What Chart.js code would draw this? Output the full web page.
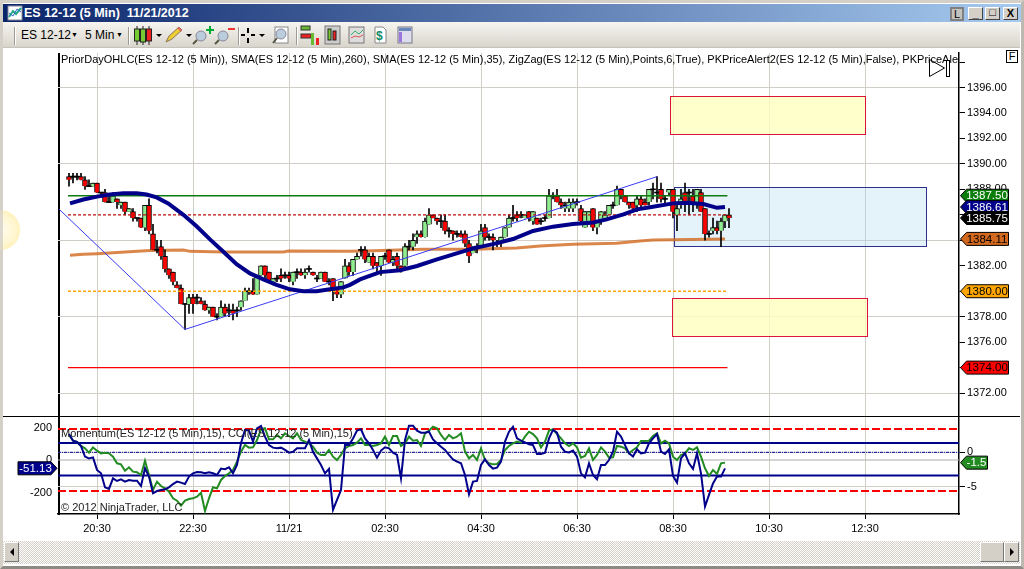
<!DOCTYPE html>
<html>
<head>
<meta charset="utf-8">
<title>ES 12-12 (5 Min) 11/21/2012</title>
<script src="https://cdn.jsdelivr.net/npm/chart.js@4"></script>
<style>
html,body{margin:0;padding:0;background:#fff;overflow:hidden}
body{width:1024px;height:569px;position:relative;font-family:"Liberation Sans",Arial,sans-serif}
.abs{position:absolute}
canvas{position:absolute;left:0}
#window{left:0;top:0;width:1018px;height:563px;border:3px solid #d4d0c8;border-right-color:#bdb9b0;border-bottom-color:#8d8a84;background:#fff}
#titlebar{left:3px;top:4px;width:1018px;height:18px;background:linear-gradient(90deg,#0a246a,#a6caf0);color:#fff;font:bold 12.5px "Liberation Sans",Arial,sans-serif;line-height:18px}
#toolbar{left:3px;top:22px;width:1017px;height:25px;background:linear-gradient(180deg,#f6f5f0,#d8d5cc);border-bottom:1px solid #c6c3ba;font-size:12px;color:#000}
.sep{position:absolute;top:5px;width:1px;height:18px;background:#9c9a92;border-right:1px solid #fff}
#scroll{left:3px;top:541px;width:1017px;height:23px;background:repeating-conic-gradient(#d4d0c8 0 25%,#fff 0 50%) 0 0/2px 2px}
.btn{position:absolute;top:1px;height:20px;background:#d4d0c8;border:1px solid;border-color:#fff #777 #777 #fff;box-sizing:border-box}
.winbtn{position:absolute;top:3px;width:15px;height:13px;background:#d4d0c8;border:1px solid;border-color:#fff #444 #444 #fff;box-sizing:border-box;font:bold 11px "Liberation Sans";text-align:center;line-height:11px;color:#000}
#sun{left:-20px;top:210px;width:40px;height:40px;border-radius:50%;background:radial-gradient(circle,#fffdf0 0,#fff6cf 55%,#ffe99a 100%)}
#leftaxis{left:58px;top:53px;width:2px;height:462px;background:#000}
#divider{left:3px;top:416px;width:1017px;height:1px;background:#000}
#fbtn{left:1006px;top:50px;width:10px;height:11px;border:1px solid #000;font-size:11px;line-height:11px;text-align:center;background:#fff}
</style>
</head>
<body>
<div id="window" class="abs"></div>
<div id="sun" class="abs"></div>
<div class="abs" style="left:0;top:190px;width:3px;height:80px;background:rgba(212,208,200,.8)"></div>
<div id="titlebar" class="abs">
  <svg class="abs" style="left:4px;top:1px" width="16" height="16"><rect x="1" y="1" width="14" height="14" fill="#fff" stroke="#889"/><polyline points="2,12 6,6 9,9 14,3" fill="none" stroke="#2a8" stroke-width="2"/><polyline points="2,8 6,11 10,4 14,7" fill="none" stroke="#36c"/></svg>
  <span class="abs" style="left:21px;top:0;white-space:pre">ES 12-12 (5 Min)  11/21/2012</span>
  <div class="winbtn" style="left:947px;width:14px;border:2px solid #808080;background:#c4c2bc;height:14px;line-height:10px;font-weight:normal">L</div>
  <div class="winbtn" style="left:965px">_</div>
  <div class="winbtn" style="left:982px;line-height:9px">&#9633;</div>
  <div class="winbtn" style="left:1000px">X</div>
</div>
<div id="toolbar" class="abs">
  <div class="sep" style="left:11px"></div>
  <span class="abs" style="left:18px;top:6px">ES 12-12</span><span class="abs" style="left:68px;top:9px;font-size:7px">&#9660;</span>
  <span class="abs" style="left:82px;top:6px">5 Min</span><span class="abs" style="left:113px;top:9px;font-size:7px">&#9660;</span>
  <div class="sep" style="left:125px"></div>
  <svg class="abs" style="left:130px;top:1px" width="285" height="24">
    <g stroke="#222"><line x1="4" y1="3" x2="4" y2="22"/><rect x="1.5" y="6" width="5" height="12" fill="#7c3"/><line x1="10" y1="3" x2="10" y2="22"/><rect x="7.5" y="6" width="5" height="13" fill="#7c3"/><line x1="16" y1="3" x2="16" y2="22"/><rect x="13.5" y="6" width="5" height="12" fill="#e22"/></g>
    <path d="M23 11h6l-3 3z" fill="#000"/>
    <path d="M33 19l3-6 10-9 3 3-10 9z" fill="#ec3" stroke="#875"/><path d="M44 5l2-1 3 3-1 2z" fill="#d66"/>
    <path d="M53 11h6l-3 3z" fill="#000"/>
    <circle cx="68" cy="13" r="5" fill="#bcd" stroke="#889"/><line x1="64" y1="17" x2="60" y2="21" stroke="#554" stroke-width="2"/><path d="M76 3h2v3h3v2h-3v3h-2v-3h-3v-2h3z" fill="#0a3"/>
    <circle cx="90" cy="13" r="5" fill="#bcd" stroke="#889"/><line x1="86" y1="17" x2="82" y2="21" stroke="#554" stroke-width="2"/><rect x="95" y="5" width="7" height="2" fill="#e33"/>
    <g stroke="#000" stroke-width="2"><line x1="115" y1="5" x2="115" y2="10"/><line x1="115" y1="15" x2="115" y2="20"/><line x1="108" y1="12" x2="112" y2="12"/><line x1="118" y1="12" x2="122" y2="12"/></g>
    <path d="M126 11h6l-3 3z" fill="#000"/>
    <rect x="142" y="4" width="13" height="16" fill="#fff" stroke="#888"/><circle cx="148" cy="11" r="5" fill="#bcd" stroke="#889"/><line x1="144" y1="15" x2="140" y2="20" stroke="#554" stroke-width="2"/>
    <rect x="168" y="3" width="9" height="4" fill="#6b3" stroke="#333"/><rect x="168" y="11" width="10" height="4" fill="#e22" stroke="#333"/><rect x="178" y="10" width="3" height="12" fill="#6b3"/><rect x="183" y="15" width="3" height="7" fill="#e22"/>
    <rect x="192" y="3" width="15" height="18" fill="#ccc" stroke="#777"/><g stroke="#222"><rect x="195" y="6" width="3" height="11" fill="#7c3"/><rect x="200" y="8" width="3" height="9" fill="#e22"/></g>
    <rect x="216" y="4" width="15" height="16" fill="#ddd" stroke="#777"/><polyline points="218,12 222,8 226,11 230,7" fill="none" stroke="#3a6"/><polyline points="218,15 222,13 226,14 230,12" fill="none" stroke="#d55"/>
    <path d="M242 4h8l3 3v13h-11z" fill="#fff" stroke="#888"/><text x="243" y="17" font-size="12" font-weight="bold" fill="#186">$</text>
    <rect x="265" y="4" width="14" height="16" fill="#dde" stroke="#778"/><rect x="266" y="5" width="12" height="3" fill="#68b"/><rect x="266" y="9" width="3" height="10" fill="#97d"/>
  </svg>
  <div class="sep" style="left:235px"></div><div class="sep" style="left:293px"></div>
</div>
<div id="leftaxis" class="abs"></div>
<canvas id="priceChart" width="1024" height="417" style="top:0"></canvas>
<canvas id="lowerChart" width="1024" height="124" style="top:416px"></canvas>
<div id="divider" class="abs"></div>
<div id="fbtn" class="abs">F</div>
<svg class="abs" style="left:927px;top:58px" width="24" height="22"><path d="M2.5 1.5v17l15-8.500z" fill="none" stroke="#000"/><rect x="19.500" y="2.500" width="3" height="16" fill="#fff" stroke="#000"/></svg>
<div id="scroll" class="abs">
  <div class="btn" style="left:1px;width:15px"><svg width="13" height="18"><path d="M9 5v8l-4-4z" fill="#000"/></svg></div>
  <div class="btn" style="left:977px;width:24px"></div>
  <div class="btn" style="left:1001px;width:15px"><svg width="13" height="18"><path d="M5 5v8l4-4z" fill="#000"/></svg></div>
</div>

<script>
// bars are numbered from the 20:30 bar, one bar = 5 min
const firstBar = -7;
const xMin = -9.75, xMax = 215.5;
const timeTicks = [0, 24, 48, 72, 96, 120, 144, 168, 192];
const timeLabels = ['20:30', '22:30', '11/21', '02:30', '04:30', '06:30', '08:30', '10:30', '12:30'];

const priceTicks = [1398, 1396, 1394, 1392, 1390, 1388, 1386, 1384, 1382, 1380, 1378, 1376, 1374, 1372];
const cciTicks = [200, 0, -200];
const momentumTicks = [0, -5];

const opens = [
1389,1389,1389,1389,1388.75,1388.25,1388.25,1388.5,1387.75,1387.75,
1387,1387,1387.25,1386.75,1387,1386.25,1386.25,1385.75,1385.75,1385,
1386.75,1384.5,1383.25,1383.5,1382.75,1381.75,1381.5,1380.5,1380.25,1379,
1379,1379.5,1379.5,1379.25,1379,1378.5,1378.75,1378,1378,1378.75,
1378.5,1378.5,1378.5,1378.75,1379.25,1380,1380,1379.75,1381.25,1382,
1381.5,1380.75,1381,1381.25,1381.25,1381.25,1380.75,1381.5,1381.5,1381.25,
1381.75,1381.5,1381,1381,1381.5,1380.75,1381,1380.25,1379.75,1381,
1382,1381.5,1382.5,1383.25,1383.25,1382.25,1382.75,1382.25,1382,1382.75,
1383.25,1382.25,1382.75,1382,1382,1383.5,1383.5,1384.25,1384.5,1384.25,
1385.25,1386,1385.75,1385.5,1385.5,1384.75,1384.75,1384.5,1384.5,1384.5,
1383.75,1383,1383.5,1383.5,1385,1384.25,1384.25,1383.75,1383.75,1384.25,
1385,1385.75,1386,1386,1385.75,1386.25,1385.5,1385.75,1385.5,1385.75,
1385.75,1387.5,1387.5,1387,1386.5,1386.5,1386.5,1387,1386.5,1385,
1385.5,1386.5,1385,1385.5,1385.75,1386,1386.75,1386.75,1388,1387.5,
1387,1387,1386.75,1387.25,1387,1387,1388,1387.75,1388,1387.25,
1387.75,1388,1386,1386.75,1387.75,1387.75,1387.5,1387,1387.75,1386.5,
1384.5,1384.75,1385,1384.75,1385.5,1386];
const highs = [
1389.25,1389.25,1389.25,1389.25,1389,1388.75,1388.5,1388.5,1387.75,1388,
1387.5,1387.75,1387.25,1387,1387,1386.5,1386.5,1385.75,1385.75,1386.75,
1387.25,1385.25,1384,1384,1383.25,1381.75,1381.5,1380.75,1380.5,1379,
1379.75,1379.75,1379.75,1379.5,1379.25,1378.75,1378.75,1378.25,1379.25,1379,
1379,1379,1378.75,1379.25,1380.25,1380.25,1381,1381.25,1382,1382,
1381.5,1381,1381.25,1381.75,1381.5,1381.5,1381.5,1381.75,1381.75,1381.75,
1382,1381.5,1381.25,1381.5,1381.5,1381,1381,1380.25,1380.75,1382.5,
1382.25,1382.5,1383,1383.5,1383.5,1383,1383,1382.25,1382.75,1383,
1383.25,1382.75,1383,1382,1383.75,1384,1384.5,1384.75,1384.75,1385.75,
1386.5,1386,1385.75,1386,1386,1385,1384.75,1384.75,1384.75,1384.75,
1384,1383.5,1383.75,1385.25,1385.25,1384.5,1384.5,1384,1384.25,1385,
1386,1386.75,1386.25,1386.25,1386,1386.25,1386.25,1385.75,1385.75,1386,
1388,1387.75,1388,1387.25,1387,1387.25,1387.25,1387.25,1386.75,1386.25,
1386.25,1386.5,1385.5,1386.25,1386.25,1386.75,1387,1388.25,1388,1387.5,
1387,1387,1387.5,1387.5,1387.25,1388,1388.5,1389,1388.5,1387.5,
1388,1388,1387,1388,1388.5,1388,1388,1388,1388,1386.5,
1384.75,1385.75,1385.5,1385.75,1386,1386.5];
const lows = [
1388.25,1388.5,1388.75,1388.75,1388,1388.25,1388.25,1387.75,1387.5,1387,
1387,1387,1386.5,1386.5,1386,1386.25,1385.5,1385.5,1385,1384.75,
1384.5,1383.25,1383,1382.5,1381.5,1381,1380.5,1380.25,1379,1377,
1378.25,1378.25,1379,1379,1378.5,1378.25,1378,1377.75,1378,1378,
1378,1377.75,1378,1378.5,1379.25,1379.75,1379.75,1379.75,1381.25,1381,
1380.75,1380.5,1380.75,1380.75,1381,1380.75,1380.5,1381,1381.25,1381,
1381.5,1381.25,1380.75,1381,1380.75,1380.5,1379.25,1379.5,1379.5,1381,
1381.25,1381.25,1382.5,1382.75,1382.25,1382.25,1381.75,1381.5,1381.25,1382.5,
1382.25,1382,1381.75,1381.5,1381.75,1383.25,1383.25,1383.75,1384.25,1384.25,
1385.25,1385.75,1385.25,1385,1384.5,1384.25,1384,1384.25,1384.25,1383.5,
1382.25,1383,1383,1383.5,1384,1384,1383.25,1383.5,1383.5,1384.25,
1385,1385.5,1385.5,1385.75,1385.75,1385.5,1385.25,1385.25,1385.25,1385.5,
1385.75,1387.25,1387,1386.5,1386.25,1386.25,1386.25,1386.75,1385.25,1385,
1385.25,1384.75,1384.5,1385.25,1385.75,1386,1386.5,1386.75,1387.25,1387,
1386.5,1386.25,1386.25,1386.5,1386.75,1386.75,1387.25,1387,1387,1386.75,
1387.5,1385.75,1384.75,1386.5,1386.25,1386,1386.25,1386.5,1386.25,1384,
1384.25,1384.5,1384.5,1383.5,1385,1385];
const closes = [
1388.75,1389,1389,1388.75,1388.25,1388.25,1388.5,1387.75,1387.75,1387,
1387,1387.5,1387,1387,1386.25,1386.5,1385.75,1385.75,1385,1386.75,
1384.75,1383.25,1383.25,1382.75,1381.75,1381.25,1380.75,1380.25,1379,1379,
1379.5,1379,1379.5,1379,1378.5,1378.75,1378,1378,1378.75,1378.25,
1378.5,1378.25,1378.5,1379.25,1380,1380,1379.75,1381.25,1382,1381.25,
1380.75,1381,1381,1381,1381.25,1381,1381.5,1381.5,1381.25,1381.5,
1381.75,1381.25,1381,1381.5,1380.75,1380.75,1380.25,1379.75,1380.75,1382,
1381.5,1382.5,1382.75,1383.25,1382.5,1382.75,1382,1382,1382.75,1382.75,
1382.25,1382.5,1382,1381.75,1383.5,1383.5,1384,1384.5,1384.25,1385.5,
1386,1385.75,1385.5,1385.5,1384.75,1384.75,1384.5,1384.5,1384.25,1383.75,
1382.75,1383.25,1383.5,1384.75,1384.25,1384.25,1384,1383.75,1384.25,1385,
1385.75,1385.75,1385.75,1386,1386,1385.75,1386.25,1385.25,1385.5,1385.75,
1387.5,1387.5,1387,1386.75,1386.75,1387,1387,1387,1385.5,1386.25,
1386.25,1385,1385.5,1386.25,1386,1386.75,1386.75,1388,1387.5,1387,
1386.75,1386.5,1387.25,1386.75,1386.75,1388,1388,1387.75,1387.25,1387.25,
1388,1386.25,1386.5,1387.25,1387,1387.75,1387,1388,1386.25,1384.5,
1384.5,1385,1384.75,1385.5,1386,1385.75];

// SMA(35), read at a handful of bars
const sma35Bars = [-6.75,-3.4,0,3.25,6.6,9.9,12.4,14.9,17.8,21.6,24.9,28.25,31.6,34.9,38.25,41.6,44.9,48.25,51.6,54.9,58.25,61.6,63.25,65.75,70.75,75.75,80,85,89.1,94,99,104,109,114,119,124,127.4,131.6,135,139,144,147.4,151.6,155,157];
const sma35 = [1386.9,1387.2,1387.43,1387.6,1387.69,1387.69,1387.6,1387.37,1386.9,1386,1385.1,1384.07,1383.1,1382.13,1381.4,1380.93,1380.5,1380.15,1380,1380,1380.15,1380.3,1380.5,1380.93,1381.5,1381.65,1381.98,1382.5,1382.9,1383.37,1383.7,1384.1,1384.73,1385.07,1385.28,1385.4,1385.64,1386.03,1386.43,1386.64,1386.9,1386.95,1386.85,1386.55,1386.61];

// SMA(260)
const sma260Bars = [-6.75,-3.4,0,5,13.25,21.6,23.25,31.6,46.6,47.8,63.25,69,81.6,94,104.9,110.75,119,129.9,135.75,139,148.6,157];
const sma260 = [1382.82,1382.9,1382.95,1383.05,1383.2,1383.24,1383.13,1383.08,1383.08,1383.15,1383.13,1383.18,1383.29,1383.29,1383.39,1383.55,1383.68,1383.76,1383.94,1384.02,1384.07,1384.11];

const zigzagBars = [-9.5, 22, 140];
const zigzag = [1386.45, 1377, 1389];

// prior day levels
const levelStart = -7.25, levelEnd = 157.6;
const priorHigh = 1387.5, priorClose = 1386, priorOpen = 1380, priorLow = 1374;

// PK zones: bar from, bar to, price top, price bottom
const zoneBars = [[143.25, 192], [143.75, 192.5], [144.25, 207.25]];
const zonePrices = [[1395.33, 1392.35], [1379.46, 1376.48], [1388.16, 1383.53]];

const cci = [
160,119,111,86,21,10,16,-61,-82,-168,-178,-113,-129,-119,-133,-123,-127,-127,-160,-51,
-102,-205,-191,-185,-180,-168,-148,-133,-139,-148,-102,-82,-74,-76,-82,-76,-82,-92,-53,-57,
-45,-82,-31,103,185,181,113,195,209,144,92,76,72,76,62,45,51,72,72,72,
123,51,10,-31,-82,-55,-307,-246,-185,92,92,133,181,189,133,103,62,14,58,78,
72,45,31,-113,123,211,211,181,168,168,174,127,103,82,62,31,4,-10,-20,-92,
-211,-133,-129,-31,4,-31,-53,-47,-10,113,174,205,133,119,109,97,92,37,37,45,
133,185,168,82,51,47,58,21,-82,-107,-20,-92,-119,-31,-31,0,51,174,144,92,
41,21,66,41,45,103,133,160,51,37,66,-98,-139,10,41,-20,-55,41,-82,-287,
-215,-144,-102,-102,-51.13];
const momentum = [
2.52,1.69,1.5,0.92,0.58,-0.05,0.72,0.24,-0.15,-0.05,-0.15,-0.63,-1.6,-1.75,-2.67,-2.18,-2.81,-2.91,-3.3,-1.21,
-3.3,-5.48,-4.27,-4.9,-5.24,-5.72,-6.69,-7.03,-7.76,-7.03,-6.79,-6.69,-6.45,-5.87,-8.53,-6.69,-5.09,-5.24,-4.02,-3.44,
-3.06,-2.57,-1.36,0.09,1.06,0.67,0.72,1.79,3.34,3.49,1.89,1.89,2.52,2.03,2.76,2.37,2.03,2.76,1.79,1.55,
1.3,0.82,-0.05,-0.39,-0.39,0.34,-0.63,-1.12,-0.39,0.58,0.92,1.06,1.4,2.03,1.06,1.06,0.92,1.06,1.3,2.27,
1.06,2.37,2.37,0.92,1.3,2.27,1.69,1.79,0.92,2.76,3.15,3.73,3.49,2.52,1.79,2.52,2.03,2.27,2.76,0.09,
-0.88,-0.39,-1.12,0.58,-1.12,-1.6,-1.75,-1.7,-1.12,0.34,0.92,1.3,1.55,1.4,2.27,3,2.66,2.03,0.72,1.55,
3.15,3.34,2.66,2.03,1.3,0.92,1.3,0.72,-0.78,-0.54,0.58,-1.12,-0.39,0.72,0.09,-0.78,-0.73,0.92,0.82,0.58,
-0.15,0.34,0.72,1.64,1.64,1.69,2.37,2.76,1.3,1.69,1.3,-0.63,-1.12,-0.39,-0.15,0.58,0.34,0.72,-0.63,-2.33,
-3.44,-2.57,-3.15,-1.6,-1.5];

const cciLevels = {outer: [190.8, -190.7], inner: [104, -96], zero: 0};
const momentumZero = 0;

const priceFlags = [1384.11, 1380, 1374, 1387.5, 1386.61, 1385.75];
const priceFlagColors = ['#d2691e', '#ffa500', '#ff0000', '#0b7d0b', '#00008b', '#000000'];
const priceFlagText = ['#000', '#000', '#000', '#fff', '#fff', '#fff'];

const legendPrice = 'PriorDayOHLC(ES 12-12 (5 Min)), SMA(ES 12-12 (5 Min),260), SMA(ES 12-12 (5 Min),35), ZigZag(ES 12-12 (5 Min),Points,6,True), PKPriceAlert2(ES 12-12 (5 Min),False), PKPriceAlert2(ES 12-12 (5 Min),False)';
const legendLower = 'Momentum(ES 12-12 (5 Min),15), CCI(ES 12-12 (5 Min),15)';
const copyrightText = '\u00a9 2012 NinjaTrader, LLC';

const textFont = '11px "Liberation Sans", Arial, sans-serif';
const gridColor = '#d0cec6';

function pairs(xs, ys) { return xs.map((x, i) => ({x: x, y: ys[i]})); }
function byBar(ys) { return ys.map((y, i) => ({x: i + firstBar, y: y})); }
function flat(x0, x1, y) { return [{x: x0, y: y}, {x: x1, y: y}]; }

function lineSet(data, color, width, order, dash, yAxisID) {
    return {type: 'line', data: data, borderColor: color, borderWidth: width, order: order,
        borderDash: dash || [], pointRadius: 0, tension: 0, yAxisID: yAxisID || 'y', parsing: true};
}

function flag(ctx, x, y, w, color, tip, text, textColor) {
    // tip: -1 points left, 1 points right
    const h = 6.5, tipW = 6;
    ctx.beginPath();
    if (tip < 0) {
        ctx.moveTo(x, y); ctx.lineTo(x + tipW, y - h); ctx.lineTo(x + w, y - h);
        ctx.lineTo(x + w, y + h); ctx.lineTo(x + tipW, y + h);
    } else {
        ctx.moveTo(x + w, y); ctx.lineTo(x + w - tipW, y - h); ctx.lineTo(x, y - h);
        ctx.lineTo(x, y + h); ctx.lineTo(x + w - tipW, y + h);
    }
    ctx.closePath();
    ctx.fillStyle = color; ctx.fill();
    ctx.strokeStyle = '#000'; ctx.lineWidth = 1; ctx.stroke();
    ctx.fillStyle = textColor;
    ctx.font = '11.5px "Liberation Sans", Arial, sans-serif';
    ctx.textAlign = 'center'; ctx.textBaseline = 'middle';
    ctx.fillText(text, x + w / 2 + (tip < 0 ? 2.5 : -2), y + 0.5);
}

const zonesPlugin = {
    id: 'zones',
    beforeDatasetsDraw(chart) {
        const ctx = chart.ctx, xs = chart.scales.x, ys = chart.scales.y;
        const fills = ['rgba(255,255,190,.8)', 'rgba(255,255,190,.8)', 'rgba(173,216,240,.33)'];
        const lines = ['#dc143c', '#dc143c', '#2e2e8e'];
        zoneBars.forEach((b, i) => {
            // snap to whole pixels so the 1px frame stays crisp
            const x0 = Math.round(xs.getPixelForValue(b[0])) + 0.5, x1 = Math.round(xs.getPixelForValue(b[1])) + 0.5;
            const y0 = Math.round(ys.getPixelForValue(zonePrices[i][0])) + 0.5, y1 = Math.round(ys.getPixelForValue(zonePrices[i][1])) + 0.5;
            ctx.fillStyle = fills[i]; ctx.fillRect(x0, y0, x1 - x0, y1 - y0);
            ctx.strokeStyle = lines[i]; ctx.lineWidth = 1; ctx.strokeRect(x0, y0, x1 - x0, y1 - y0);
        });
    }
};

const priceTextPlugin = {
    id: 'priceText',
    afterDraw(chart) {
        const ctx = chart.ctx, a = chart.chartArea, ys = chart.scales.y;
        ctx.save();
        ctx.beginPath(); ctx.rect(a.left, a.top, a.right - a.left, a.bottom - a.top); ctx.clip();
        ctx.fillStyle = '#000'; ctx.font = textFont; ctx.textAlign = 'left'; ctx.textBaseline = 'middle';
        ctx.fillText(legendPrice, a.left + 3, a.top + 7);
        ctx.restore();
        ctx.save();
        priceFlags.forEach((v, i) => {
            flag(ctx, a.right + 1.5, ys.getPixelForValue(v), 48, priceFlagColors[i], -1, v.toFixed(2), priceFlagText[i]);
        });
        ctx.restore();
    }
};

const lowerTextPlugin = {
    id: 'lowerText',
    afterDraw(chart) {
        const ctx = chart.ctx, a = chart.chartArea;
        ctx.save();
        ctx.fillStyle = '#222'; ctx.font = textFont; ctx.textAlign = 'left'; ctx.textBaseline = 'middle';
        ctx.fillText(legendLower, a.left + 3, a.top + 18);
        ctx.fillText(copyrightText, a.left + 3, a.bottom - 6);
        flag(ctx, a.left - 40, chart.scales.yCci.getPixelForValue(cci[cci.length - 1]), 39, '#00008b', 1, cci[cci.length - 1].toFixed(2), '#fff');
        flag(ctx, a.right + 1.5, chart.scales.yMom.getPixelForValue(momentum[momentum.length - 1]), 27, '#228b22', -1, momentum[momentum.length - 1].toFixed(1), '#fff');
        ctx.restore();
    }
};

// keep the plot area where the picture has it: no room for half labels
function noPad(s) { s.paddingTop = s.paddingBottom = s.paddingLeft = s.paddingRight = 0; }
function fitWidth(w) { return scale => { scale.width = w; noPad(scale); }; }
function fitHeight(h) { return scale => { scale.height = h; noPad(scale); }; }
function setTicks(values) { return scale => { scale.ticks = values.map(v => ({value: v})); }; }
const tickFont = {family: '"Liberation Sans", Arial, sans-serif', size: 11};

new Chart(document.getElementById('priceChart'), {
    type: 'bar',
    plugins: [zonesPlugin, priceTextPlugin],
    data: {
        datasets: [
            lineSet(pairs(sma35Bars, sma35), '#00008b', 4, 1),
            lineSet(pairs(zigzagBars, zigzag), '#3a3af5', 1, 2),
            lineSet(flat(levelStart, levelEnd, priorHigh), '#0f7a0f', 1.4, 2),
            lineSet(flat(levelStart, levelEnd, priorClose), '#c01010', 1.4, 2, [3, 2]),
            lineSet(flat(levelStart, levelEnd, priorOpen), '#ffa500', 1.4, 2, [3, 2]),
            lineSet(flat(levelStart, levelEnd, priorLow), '#ff0000', 1.4, 2),
            {   // candle bodies; a doji gets a hair-thin black body
                data: opens.map((o, i) => ({x: i + firstBar, y: o === closes[i] ? [o - 0.04, o + 0.04] : [o, closes[i]]})),
                backgroundColor: opens.map((o, i) => o === closes[i] ? '#000' : (closes[i] > o ? '#90ee90' : '#ff0000')),
                borderColor: '#000', borderWidth: opens.map((o, i) => o === closes[i] ? 0 : 1),
                barThickness: 5, order: 3, grouped: false
            },
            {   // candle wicks
                data: highs.map((h, i) => ({x: i + firstBar, y: [lows[i], h]})),
                backgroundColor: '#000', borderWidth: 0, barThickness: 1, order: 4, grouped: false
            },
            lineSet(pairs(sma260Bars, sma260), 'rgba(210,105,30,.8)', 3, 5)
        ]
    },
    options: {
        responsive: false, animation: false, devicePixelRatio: 1,
        layout: {padding: {left: 58, top: 53, right: 0, bottom: 0}},
        plugins: {legend: {display: false}, tooltip: {enabled: false}},
        scales: {
            x: {
                type: 'linear', min: xMin, max: xMax, offset: false,
                afterBuildTicks: setTicks(timeTicks),
                afterFit: fitHeight(1),
                grid: {color: gridColor, drawTicks: false, offset: false},
                border: {display: false},
                ticks: {display: false}
            },
            y: {
                position: 'right', min: 1370.2, max: 1398.71,
                afterBuildTicks: setTicks(priceTicks),
                afterFit: fitWidth(65),
                grid: {color: c => (c.tick && (1396 - c.tick.value) % 6 === 0) ? gridColor : 'rgba(0,0,0,0)', tickColor: '#000', tickLength: 6},
                border: {display: true, color: '#000', width: 1.5},
                ticks: {
                    color: '#000', font: tickFont, padding: 2, autoSkip: false, align: 'center',
                    callback: v => v === 1398 ? '' : v.toFixed(2)
                }
            }
        }
    }
});

new Chart(document.getElementById('lowerChart'), {
    type: 'line',
    plugins: [lowerTextPlugin],
    data: {
        datasets: [
            lineSet(byBar(cci), '#00008b', 2, 1, [], 'yCci'),
            lineSet(byBar(momentum), '#228b22', 2, 2, [], 'yMom'),
            lineSet(flat(xMin, xMax, cciLevels.outer[0]), '#ff0000', 2, 3, [8, 3], 'yCci'),
            lineSet(flat(xMin, xMax, cciLevels.outer[1]), '#ff0000', 2, 3, [8, 3], 'yCci'),
            lineSet(flat(xMin, xMax, cciLevels.inner[0]), '#00008b', 2, 3, [], 'yCci'),
            lineSet(flat(xMin, xMax, cciLevels.inner[1]), '#00008b', 2, 3, [], 'yCci'),
            lineSet(flat(xMin, xMax, momentumZero), '#00008b', 1, 3, [3, 1, 1, 1], 'yMom'),
            lineSet(flat(xMin, xMax, cciLevels.zero), '#a9a9a9', 1, 4, [], 'yCci')
        ]
    },
    options: {
        responsive: false, animation: false, devicePixelRatio: 1,
        layout: {padding: 0},
        plugins: {legend: {display: false}, tooltip: {enabled: false}},
        scales: {
            x: {
                type: 'linear', min: xMin, max: xMax,
                afterBuildTicks: setTicks(timeTicks),
                afterFit: fitHeight(26),
                grid: {color: gridColor, tickColor: '#000', tickLength: 5},
                border: {display: true, color: '#000', width: 1.5},
                ticks: {color: '#000', font: tickFont, padding: 3, autoSkip: false, maxRotation: 0, callback: (v, i) => timeLabels[i]}
            },
            yCci: {
                position: 'left', min: -332.3, max: 270.8,
                afterBuildTicks: setTicks(cciTicks),
                afterFit: fitWidth(58),
                grid: {drawOnChartArea: false, tickColor: '#000', tickLength: 0},
                border: {display: false},
                ticks: {color: '#000', font: tickFont, padding: 6, autoSkip: false}
            },
            yMom: {
                position: 'right', min: -8.97, max: 5.28,
                afterBuildTicks: setTicks(momentumTicks),
                afterFit: fitWidth(65),
                grid: {color: gridColor, tickColor: '#000', tickLength: 6},
                border: {display: true, color: '#000', width: 1.5},
                ticks: {color: '#000', font: tickFont, padding: 2, autoSkip: false}
            }
        }
    }
});
</script>
</body>
</html>
